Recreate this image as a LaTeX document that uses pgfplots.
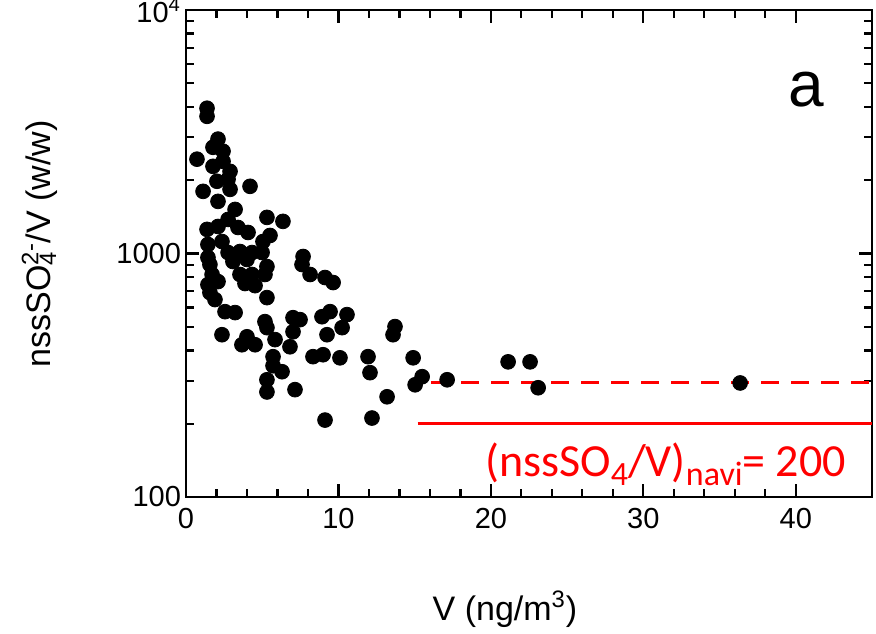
\documentclass[border=0pt]{standalone}
\usepackage{fontspec}
\setmainfont{Liberation Sans}
\newfontfamily\calib{Carlito}
\usepackage{pgfplots}
\pgfplotsset{compat=1.18}
\usepackage{pgfplotstable}

% V (ng/m3) vs nssSO4/V ratio
\pgfplotstableread{
x y
1.38 3950
1.38 3660
2.10 2950
1.77 2730
2.43 2630
0.72 2440
2.43 2390
1.77 2280
2.89 2175
2.03 1980
2.76 2017
1.12 1800
2.89 1834
4.20 1888
2.10 1637
3.22 1517
5.31 1407
6.36 1355
2.76 1380
1.38 1256
2.10 1291
3.41 1279
4.07 1220
5.51 1186
1.44 1089
2.36 1120
5.05 1120
2.76 1009
3.54 1019
4.33 1009
4.99 1009
1.44 963
3.08 927
4.00 945
1.57 901
1.71 820
3.54 820
4.33 820
5.31 884
1.44 745
2.10 767
3.87 753
4.53 738
5.18 820
1.57 691
1.90 647
5.31 659
7.68 972
7.61 901
8.14 820
9.12 797
9.65 760
2.56 577
3.22 572
2.36 464
5.18 525
5.31 496
4.00 455
3.67 422
4.53 422
5.84 443
5.71 377
5.71 346
6.30 327
5.31 303
5.31 270
7.02 545
7.48 535
7.02 477
6.82 414
7.15 276
8.92 550
9.45 577
10.56 561
9.25 464
10.24 496
8.33 377
8.99 384
10.10 373
11.94 377
12.07 324
13.71 501
13.58 464
13.19 258
14.90 373
15.49 312
15.03 289
9.12 207
12.20 211
17.13 303
21.13 359
22.57 359
23.10 281
36.35 294
}\ratio

\begin{document}
\begin{tikzpicture}
\begin{axis}[
    scale only axis,
    width=343pt, height=243.5pt,
    xmin=0, xmax=45,
    ymode=log, ymin=100, ymax=10000,
    xtick={0,10,...,40},
    minor x tick num=4,
    ytick={100,1000,10000},
    yticklabels={100,1000,10\textsuperscript{4}},
    axis line style={line width=1.3pt},
    every major tick/.append style={black, line width=1.1pt, major tick length=6.5pt},
    every minor tick/.append style={black, line width=1.1pt, minor tick length=4pt},
    tick align=inside,
    /pgf/number format/assume math mode=true,
    tick label style={font=\fontsize{14.5}{17}\selectfont},
    xticklabel style={yshift=-2pt},
    yticklabel style={xshift=1pt},
    xlabel={V (ng/m\textsuperscript{3})},
    ylabel={nssSO\rlap{\textsubscript{4}}\textsuperscript{2-}/V (w/w)},
    label style={font=\fontsize{17}{20}\selectfont},
    xlabel style={at={(axis description cs:0.465,0)}, anchor=base, yshift=-61.5pt},
    ylabel style={at={(axis description cs:-0.213,0.52)}, anchor=center},
    clip=true,
]
\addplot[only marks, mark=*, mark size=3.7pt, black] table[x=x, y=y] {\ratio};
\addplot[red, line width=1.6pt, dash pattern=on 9pt off 6pt] coordinates {(16.1,295) (45,295)};
\addplot[red, line width=1.6pt] coordinates {(15.2,200) (45,200)};
\node[anchor=base west, inner sep=0, text=red, font=\calib\fontsize{23}{26}\selectfont]
  at (axis cs:19.6,121) {(nssSO\raisebox{-4.5pt}{\fontsize{17}{20}\selectfont 4}/V)\raisebox{-4.5pt}{\fontsize{17}{20}\selectfont navi}= 200};
\node[anchor=base west, inner sep=0, font=\fontsize{32}{36}\selectfont] at (axis cs:39.5,4027) {a};
\coordinate (bl) at (rel axis cs:0,0);
\coordinate (tr) at (rel axis cs:1,1);
\end{axis}
\pgfresetboundingbox
\path[use as bounding box] (bl) ++(-93pt,-68pt) rectangle ([shift={(2pt,5pt)}]tr);
\end{tikzpicture}
\end{document}
